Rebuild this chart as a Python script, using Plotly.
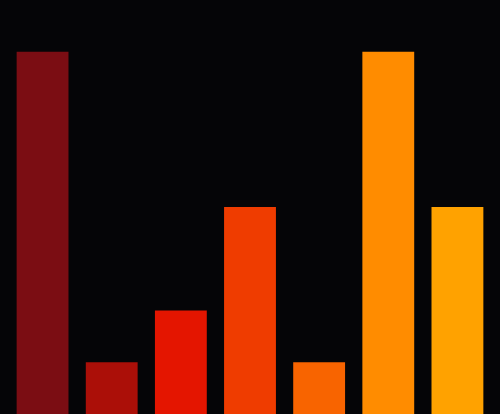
import plotly.graph_objects as go

# data
categories = ["A", "B", "C", "D", "E", "F", "G"]
values = [7, 1, 2, 4, 1, 7, 4]
colors = ["#7b0d13", "#ab0f08", "#e41500", "#ef3c00", "#f86400", "#ff8c00", "#ffa200"]

fig = go.Figure()

fig.add_trace(go.Bar(
    x=categories,
    y=values,
    marker=dict(color=colors, line=dict(width=0)),
    showlegend=False,
))

fig.update_layout(
    width=500,
    height=414,
    paper_bgcolor="#050507",
    plot_bgcolor="#050507",
    margin=dict(l=8, r=8, t=0, b=0),
    bargap=0.25,
    xaxis=dict(visible=False),
    yaxis=dict(visible=False, range=[0, 8]),
)

# the page has a default body margin, drop it so the chart fills the window
fig.write_html(
    "out.html",
    config=dict(displayModeBar=False),
    post_script="document.body.style.margin='0'; document.body.style.background='#050507';",
)
